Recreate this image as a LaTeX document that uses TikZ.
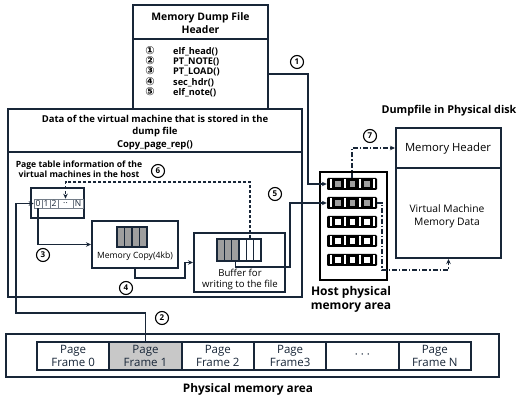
\documentclass[tikz,border=0pt]{standalone}
\usepackage{fontspec}
\setmainfont{Open Sans}
\newfontfamily\symfont{DejaVu Sans}
\usetikzlibrary{arrows.meta,shapes.misc,calc}
\definecolor{navy}{RGB}{24,38,56}
\definecolor{cellgray}{RGB}{158,158,158}
\definecolor{framegray}{RGB}{200,200,200}
\newcommand{\fsz}[2]{\fontsize{#1pt}{#2pt}\selectfont}
\tikzset{
  box/.style={draw=navy, line width=2pt, fill=white, inner sep=0pt},
  cbox/.style={box, chamfered rectangle, chamfered rectangle corners=north east,
    chamfered rectangle xsep=6pt, chamfered rectangle ysep=6pt},
  conn/.style={draw=navy, line width=1.2pt, -{Stealth[length=5pt,width=4.5pt]}},
  dconn/.style={conn, dash pattern=on 3pt off 2pt},
  ddconn/.style={conn, dash pattern=on 5pt off 2pt on 1.2pt off 2pt},
  num/.style={circle, draw=black, line width=1.1pt, fill=white, inner sep=0pt, minimum size=13pt,
    font=\bfseries\fsz{8}{8}},
  tcell/.style={draw=navy!60, line width=0.6pt, fill=white, inner sep=0pt,
    minimum height=9pt, text=navy, font=\fsz{8.5}{9}},
  gcell/.style={draw=navy, line width=1.3pt, inner sep=0pt, minimum width=7.4pt},
  hrow/.style={fill=black, rounded corners=1.2pt, minimum width=50pt, minimum height=12pt, inner sep=0pt},
  frame/.style={draw=navy, line width=1.8pt, inner sep=0pt, minimum width=72.33pt,
    minimum height=28pt, align=center, text=navy, font=\fsz{11.5}{13.8}},
  lbl/.style={align=center, inner sep=0pt},
  marker/.style={inner sep=0pt, text height=7pt, text depth=1pt, font=\symfont\bfseries\fsz{11}{10}},
}
\begin{document}
\begin{tikzpicture}[x=1pt,y=-1pt]
\useasboundingbox (0,0) rectangle (517,398);

% ---- ELF header routine list ----
\node[cbox, minimum width=135pt, minimum height=107pt] (hdr) at (200.5,58.5) {};
\draw[navy, line width=2pt] (hdr.west |- 0,39) -- (hdr.east |- 0,39);
\node[lbl, font=\bfseries\fsz{10.4}{13}] (hdrt) at (200.5,23.5) {Memory Dump File\\Header};
\foreach \k/\y/\s/\t in {1/52/①/elf\_head(),2/62/②/PT\_NOTE(),3/72/③/PT\_LOAD(),4/82.5/④/sec\_hdr(),5/93/⑤/elf\_note()}{
  \node[marker] (sym\k) at (150,\y) {\s};
  \node[lbl, anchor=west, font=\bfseries\fsz{9.2}{10}] (fn\k) at (173,\y) {\t};
}

% ---- guest data area ----
\node[cbox, minimum width=294pt, minimum height=188pt] (vm) at (155,203) {};
\draw[navy, line width=2pt] (vm.west |- 0,152) -- (vm.east |- 0,152);
\node[lbl, font=\bfseries\fsz{9.5}{12.5}] (vmt) at (155,132.5)
  {Data of the virtual machine that is stored in the\\dump file\\Copy\_page\_rep()};
\node[lbl, font=\bfseries\fsz{8.6}{10}] (ptt) at (79,169)
  {Page table information of the\\virtual machines in the host};

% page table
\node[draw=navy, line width=1.4pt, fill=white, minimum width=53pt, minimum height=30pt, inner sep=0pt] (pt) at (57.5,203) {};
\node[tcell, minimum width=8pt] (c0) at (38,203.5) {0};
\node[tcell, minimum width=8pt] (c1) at (46,203.5) {1};
\node[tcell, minimum width=8pt] (c2) at (54,203.5) {2};
\node[tcell, minimum width=15pt] (cd) at (65.5,203.5) {..};
\node[tcell, minimum width=10pt] (cN) at (78,203.5) {N};

% memory copy block
\node[box, minimum width=86pt, minimum height=47pt] (mc) at (135,244.5) {};
\foreach \k/\x in {1/120.75,2/128.25,3/135.75,4/143.25}
  \node[gcell, fill=cellgray, minimum height=20pt] (m\k) at (\x,237) {};
\node[lbl, font=\fsz{8.6}{10}] (mct) at (135,256.5) {Memory Copy(4kb)};

% write buffer
\node[box, minimum width=91pt, minimum height=59pt] (buf) at (239.5,262.5) {};
\foreach \k/\x/\c in {1/220.67/cellgray,2/228/cellgray,3/235.33/cellgray,4/242.67/white,5/250/white,6/257.33/white}
  \node[gcell, fill=\c, minimum height=22pt] (b\k) at (\x,250) {};
\node[lbl, font=\fsz{9.6}{11}] (buft) at (240,279.5) {Buffer for\\writing to the file};

% ---- host physical memory ----
\node[draw=black, line width=1.4pt, fill=white, minimum width=67pt, minimum height=108pt, inner sep=0pt] (hm) at (353.5,226) {};
\foreach \k/\y/\c in {1/184/cellgray,2/203/cellgray,3/222/white,4/241/white,5/260/white}{
  \node[hrow] (row\k) at (352,\y) {};
  \foreach \bx in {331,345.3,359.7,374}
    \fill[white] (\bx-1,\y-4.5) rectangle (\bx+1,\y+4.5);
  \foreach \sx in {338.2,352.5,366.9}
    \fill[\c] (\sx-2.8,\y-2.8) rectangle (\sx+2.8,\y+2.8);
}
\node[lbl, font=\bfseries\fsz{12}{14}] (hmt) at (351,299) {Host physical\\memory area};

% ---- dump file on disk ----
\node[lbl, font=\bfseries\fsz{10.8}{12}] (dskt) at (449,111) {Dumpfile in Physical disk};
\node[box, minimum width=105pt, minimum height=40pt] (dskh) at (448.5,148) {};
\node[box, minimum width=105pt, minimum height=90pt] (dskd) at (448.5,213) {};
\node[lbl, font=\fsz{11.3}{12}] (dskht) at (448,149) {Memory Header};
\node[lbl, font=\fsz{10.3}{13}] (dskdt) at (447,216.5) {Virtual Machine\\Memory Data};

% ---- physical memory frames ----
\node[draw=navy, line width=2pt, minimum width=493pt, minimum height=43pt, inner sep=0pt] (pm) at (252.5,355.5) {};
\foreach \k/\t/\c in {0/Page\\Frame 0/white,1/Page\\Frame 1/framegray,2/Page\\Frame 2/white,3/Page\\Frame3/white,4/· · ·/white,5/Page\\Frame N/white}
  \node[frame, fill=\c] (pf\k) at ({37+72.33*(\k+0.5)},356) {\t};
\node[lbl, font=\bfseries\fsz{11.8}{13}] (pmt) at (248,389) {Physical memory area};

% ---- connectors ----
\draw[conn] (hdr.east |- 0,74) -- (308,74) |- (row1.west);
\draw[conn] (pf1.north) |- (16,313) |- (c0.west);
\draw[conn] (c0.south) |- (mc.west);
\draw[conn] (mc.south) |- (185,278) |- (buf.west);
\draw[conn] (b3.south) |- (290,267) |- (row2.west);
\draw[dconn] (b5.north) |- (cd.north |- 0,182) -- (cd.north);
\draw[ddconn] (row1.north) |- (dskh.west);
\draw[ddconn] (row2.east) -| (382,270) -| (dskd.south);

% step numbers
\node[num] (n1) at (297,62) {1};
\node[num] (n2) at (162,318) {2};
\node[num] (n3) at (43,255) {3};
\node[num] (n4) at (126,288) {4};
\node[num] (n5) at (275,194) {5};
\node[num] (n6) at (158,171) {6};
\node[num] (n7) at (370,136) {7};
\end{tikzpicture}
\end{document}
